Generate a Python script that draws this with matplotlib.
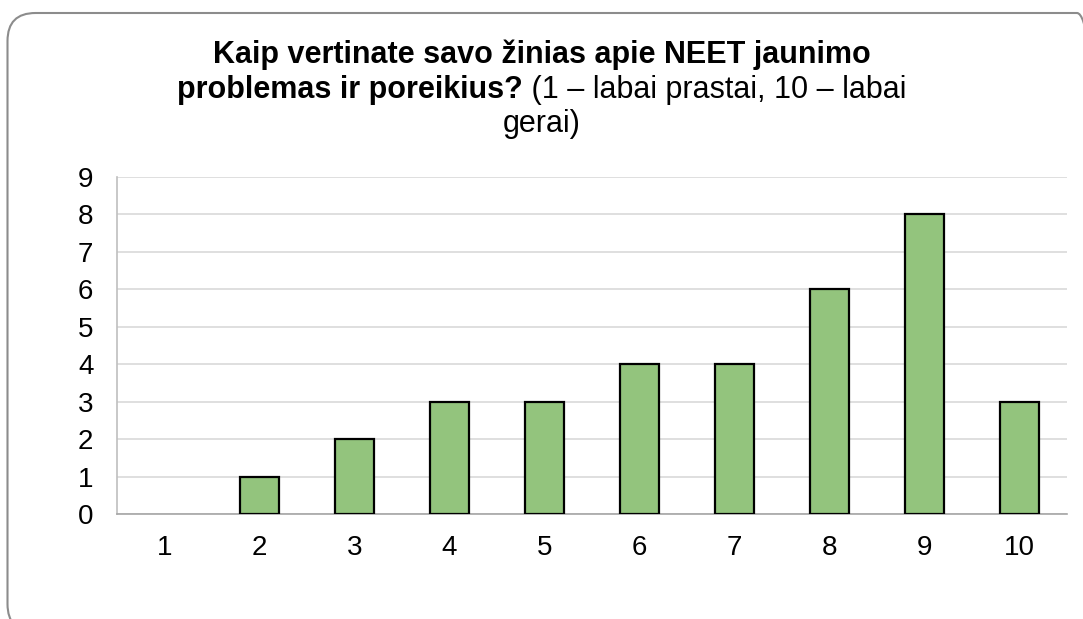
import matplotlib
matplotlib.use("Agg")
import matplotlib.pyplot as plt
from matplotlib.patches import FancyBboxPatch
from matplotlib.transforms import IdentityTransform
from matplotlib.offsetbox import TextArea, HPacker, VPacker, AnchoredOffsetbox

plt.rcParams['font.family'] = ['Liberation Sans', 'DejaVu Sans']

# Duomenys
categories = ["1", "2", "3", "4", "5", "6", "7", "8", "9", "10"]
values = [0, 1, 2, 3, 3, 4, 4, 6, 8, 3]
y_ticks = list(range(0, 10))

title_bold_1 = "Kaip vertinate savo žinias apie NEET jaunimo"
title_bold_2 = "problemas ir poreikius?"
title_norm_2 = " (1 – labai prastai, 10 – labai"
title_norm_3 = "gerai)"

W, H = 1083, 619
fig = plt.figure(figsize=(W / 100, H / 100), dpi=100)
ax = fig.add_axes([117 / W, 1 - 514 / H, (1067 - 117) / W, (514 - 177) / H])

x = list(range(len(categories)))
bars = ax.bar(x, values, width=0.41, color="#93C47D", edgecolor="black", linewidth=1.6, zorder=3)
# nulinė reikšmė nebraižoma
for b, v in zip(bars, values):
    if v == 0:
        b.set_visible(False)

ax.set_xlim(-0.5, len(categories) - 0.5)
ax.set_ylim(0, 9)
ax.set_yticks(y_ticks)
ax.set_xticks(x)
ax.set_xticklabels(categories)
ax.tick_params(axis="both", length=0, labelsize=20, colors="black")
ax.tick_params(axis="x", pad=15)
ax.tick_params(axis="y", pad=17)
ax.grid(axis="y", color="#d9d9d9", linewidth=1.2, zorder=0)
for side in ["top", "right"]:
    ax.spines[side].set_visible(False)
ax.spines["left"].set_color("#bfbfbf")
ax.spines["bottom"].set_color("#a6a6a6")
ax.spines["left"].set_linewidth(1.2)
ax.spines["bottom"].set_linewidth(1.2)

# Pavadinimas: dalis paryškinta, dalis ne
fs = 22
bold = dict(fontsize=fs, fontweight="bold", color="black")
norm = dict(fontsize=fs, color="black")
line1 = TextArea(title_bold_1, textprops=bold)
line2 = HPacker(children=[TextArea(title_bold_2, textprops=bold),
                          TextArea(title_norm_2, textprops=norm)],
                align="baseline", pad=0, sep=0)
line3 = TextArea(title_norm_3, textprops=norm)
title_box = VPacker(children=[line1, line2, line3], align="center", pad=0, sep=3)
anchored = AnchoredOffsetbox(loc="upper center", child=title_box, pad=0, frameon=False,
                             bbox_to_anchor=(0.5, 1 - 40 / H),
                             bbox_transform=fig.transFigure, borderpad=0)
fig.add_artist(anchored)

# Rėmelis su suapvalintais kampais
frame = FancyBboxPatch((7.5, -13), 1105 - 7.5, 606 + 13,
                       boxstyle="round,pad=0,rounding_size=28",
                       transform=IdentityTransform(), facecolor="none",
                       edgecolor="#8c8c8c", linewidth=1.5, clip_on=False)
fig.patches.append(frame)

fig.savefig("out.png", dpi=100)
